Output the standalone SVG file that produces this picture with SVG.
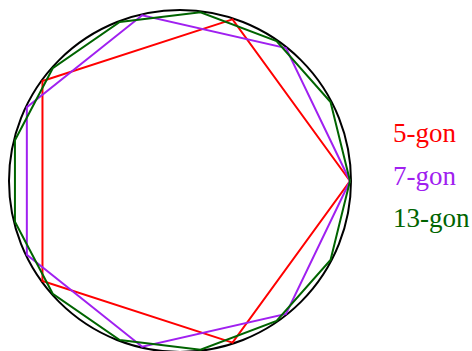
<svg xmlns="http://www.w3.org/2000/svg" width="472" height="351" viewBox="0 0 472 351">
<style>
.ln{fill:none;stroke-width:2;stroke-linejoin:miter}
.lbl{font-family:"Liberation Serif","DejaVu Serif",serif;font-size:27px}
</style>
<rect width="472" height="351" fill="#fff"/>
<g id="connectors">
<circle id="circle" cx="180" cy="181" r="171" class="ln" stroke="#000"/>
<polygon id="pentagon" class="ln" stroke="#ff0000" points="350,181 232.53,19.32 42.47,81.08 42.47,280.92 232.53,342.68"/>
<polygon id="heptagon" class="ln" stroke="#a020f0" points="350,181 285.99,48.09 142.17,15.26 26.84,107.24 26.84,254.76 142.17,346.74 285.99,313.91"/>
<polygon id="tridecagon" class="ln" stroke="#006400" points="350,181 330.53,102 276.57,41.09 200.49,12.24 119.72,22.05 52.75,68.27 14.94,140.32 14.94,221.68 52.75,293.73 119.72,339.95 200.49,349.76 276.57,320.91 330.53,260"/>
</g>
<g id="legend-5"><text class="lbl" x="393" y="141.5" fill="#ff0000">5-gon</text></g>
<g id="legend-7"><text class="lbl" x="393" y="184.5" fill="#a020f0">7-gon</text></g>
<g id="legend-13"><text class="lbl" x="393" y="227" fill="#006400">13-gon</text></g>
</svg>
